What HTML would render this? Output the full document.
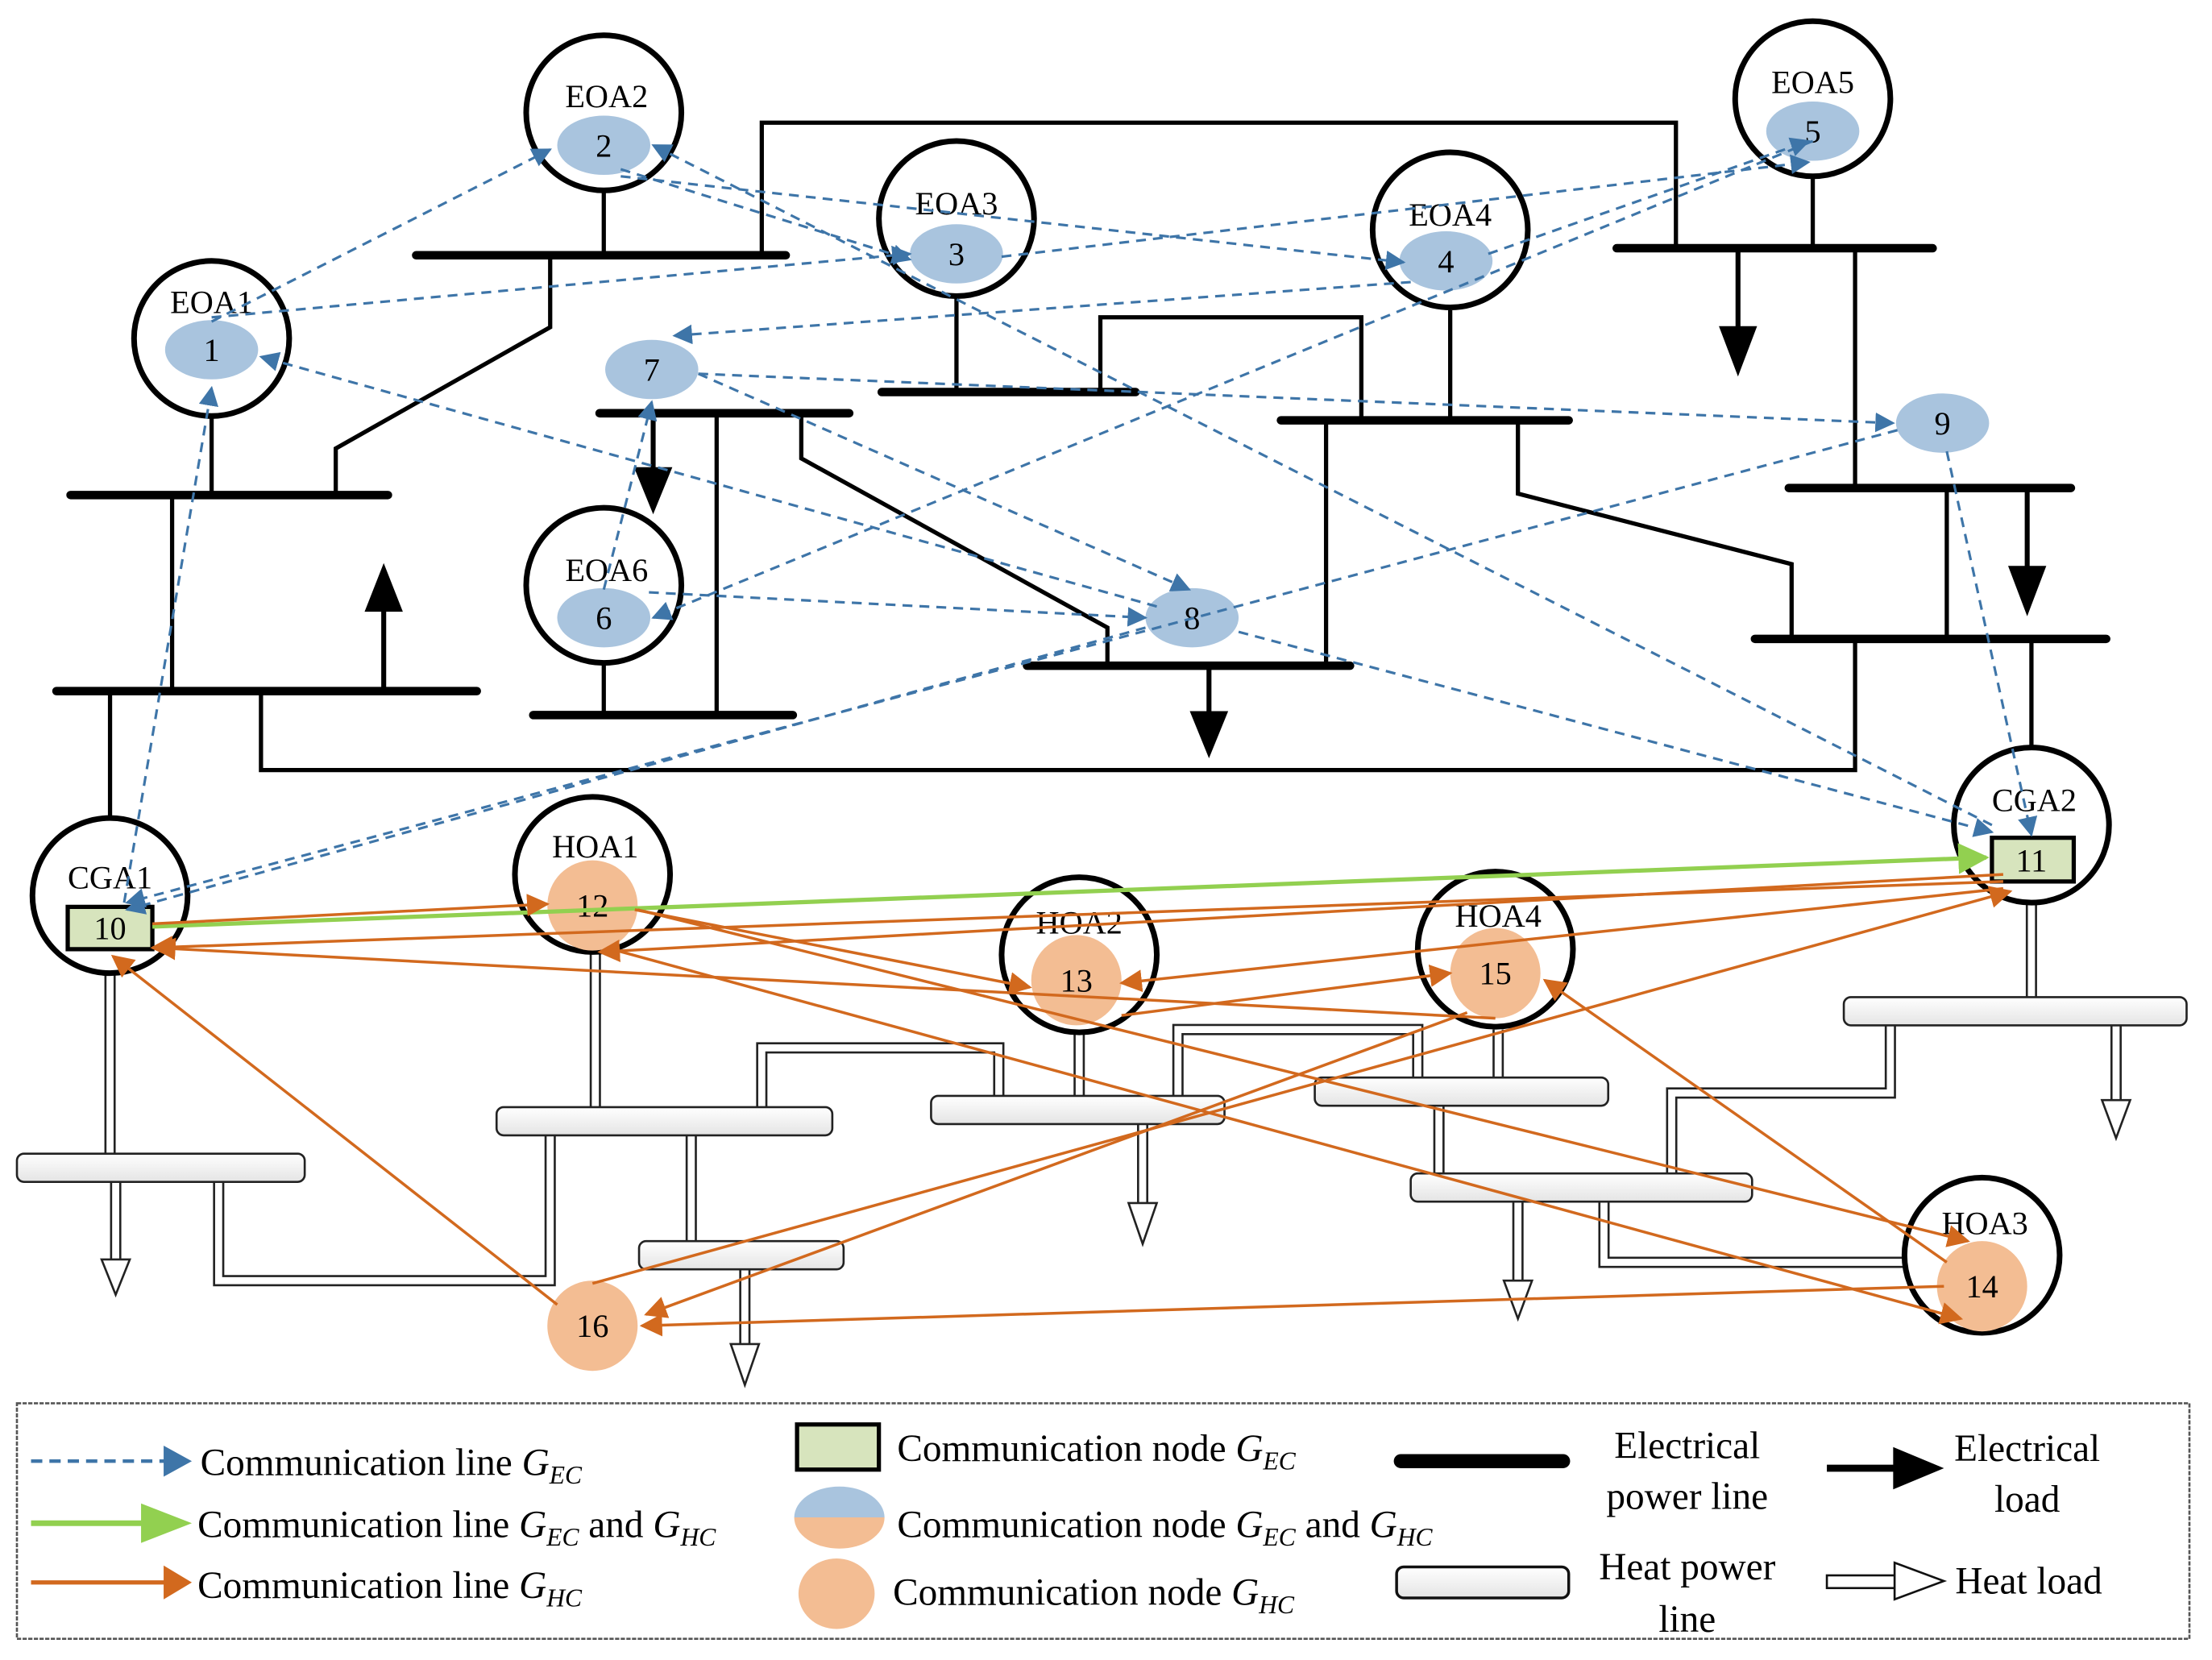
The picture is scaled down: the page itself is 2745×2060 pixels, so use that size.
<!DOCTYPE html>
<html><head><meta charset="utf-8"><style>html,body{margin:0;padding:0;background:#fff}svg{display:block}</style></head><body>
<svg width="2745" height="2060" viewBox="0 0 1568 1177" preserveAspectRatio="none" xmlns="http://www.w3.org/2000/svg" font-family="Liberation Serif, serif">
<defs>
<marker id="ab" viewBox="0 0 10 10" refX="9" refY="5" markerWidth="14" markerHeight="14" markerUnits="userSpaceOnUse" orient="auto"><path d="M0,0L10,5L0,10z" fill="#3e75a8"/></marker>
<marker id="ao" viewBox="0 0 10 10" refX="9" refY="5" markerWidth="16" markerHeight="16" markerUnits="userSpaceOnUse" orient="auto"><path d="M0,0L10,5L0,10z" fill="#d2691e"/></marker>
<marker id="ag" viewBox="0 0 10 10" refX="9" refY="5" markerWidth="22" markerHeight="22" markerUnits="userSpaceOnUse" orient="auto"><path d="M0,0L10,5L0,10z" fill="#92d050"/></marker>
<linearGradient id="pipe" x1="0" y1="0" x2="0" y2="1"><stop offset="0" stop-color="#fff"/><stop offset="1" stop-color="#e4e4e4"/></linearGradient>
<linearGradient id="half" x1="0" y1="0" x2="0" y2="1"><stop offset="0.5" stop-color="#a9c4de"/><stop offset="0.5" stop-color="#f3bd93"/></linearGradient>
</defs>

<!-- electrical network -->
<g stroke="#000" fill="none" stroke-width="3">
<path d="M428,135V181M390,181V232L238,318V351M540,181V87H1188V176M150,295V351M122,351V490M78,490V580M185,490V546H1315V453M1076,298V350L1270,400V453M678,210V278M780,278V225H965V298M1028,220V298M940,298V472M568,293V325L785,445V472M508,293V507M428,470V507M1285,125V176M1315,176V346M1380,346V453M1440,453V530"/>
</g>
<g stroke="#000" stroke-width="6" stroke-linecap="round">
<line x1="295" y1="181" x2="557" y2="181"/><line x1="50" y1="351" x2="275" y2="351"/><line x1="40" y1="490" x2="338" y2="490"/>
<line x1="425" y1="293" x2="602" y2="293"/><line x1="378" y1="507" x2="562" y2="507"/><line x1="625" y1="278" x2="805" y2="278"/>
<line x1="728" y1="472" x2="957" y2="472"/><line x1="908" y1="298" x2="1112" y2="298"/><line x1="1146" y1="176" x2="1370" y2="176"/>
<line x1="1268" y1="346" x2="1468" y2="346"/><line x1="1244" y1="453" x2="1493" y2="453"/>
</g>
<g stroke="#000" stroke-width="3.5" fill="#000">
<line x1="272" y1="490" x2="272" y2="430"/><path d="M261,432L272,404L283,432z"/>
<line x1="463" y1="293" x2="463" y2="335"/><path d="M452,333L463,360L474,333z"/>
<line x1="857" y1="472" x2="857" y2="508"/><path d="M846,506L857,533L868,506z"/>
<line x1="1232" y1="176" x2="1232" y2="235"/><path d="M1221,233L1232,262L1243,233z"/>
<line x1="1437" y1="346" x2="1437" y2="405"/><path d="M1426,403L1437,432L1448,403z"/>
</g>

<!-- heat network -->
<g fill="none" stroke="#222" stroke-width="8"><path d="M78,690V818M155,838V908H390V805M422,675V785M540,785V743H708V777M490,805V880M765,730V777M835,777V730H1005V764M1062,730V764M1020,784V832M1137,852V895H1355M1185,832V775H1340V727M1440,640V707M82,838V895M528,900V955M810,797V855M1076,852V910M1500,727V782"/></g>
<g fill="none" stroke="#fff" stroke-width="5"><path d="M78,690V818M155,838V908H390V805M422,675V785M540,785V743H708V777M490,805V880M765,730V777M835,777V730H1005V764M1062,730V764M1020,784V832M1137,852V895H1355M1185,832V775H1340V727M1440,640V707M82,838V895M528,900V955M810,797V855M1076,852V910M1500,727V782"/></g>
<g fill="#fff" stroke="#222" stroke-width="1.5">
<path d="M72,893L92,893L82,918z"/><path d="M518,953L538,953L528,982z"/><path d="M800,853L820,853L810,882z"/><path d="M1066,908L1086,908L1076,935z"/><path d="M1490,780L1510,780L1500,807z"/>
</g>
<g fill="url(#pipe)" stroke="#222" stroke-width="1.5">
<rect x="12" y="818" width="204" height="20" rx="5"/><rect x="352" y="785" width="238" height="20" rx="5"/><rect x="660" y="777" width="208" height="20" rx="5"/>
<rect x="932" y="764" width="208" height="20" rx="5"/><rect x="1307" y="707" width="243" height="20" rx="5"/><rect x="1000" y="832" width="242" height="20" rx="5"/>
<rect x="453" y="880" width="145" height="20" rx="5"/>
</g>

<!-- agent circles -->
<g fill="#fff" stroke="#000" stroke-width="4">
<circle cx="150" cy="240" r="55"/><circle cx="428" cy="80" r="55"/><circle cx="678" cy="155" r="55"/><circle cx="1028" cy="163" r="55"/>
<circle cx="1285" cy="70" r="55"/><circle cx="428" cy="415" r="55"/><circle cx="78" cy="635" r="55"/><circle cx="420" cy="620" r="55"/>
<circle cx="765" cy="677" r="55"/><circle cx="1060" cy="673" r="55"/><circle cx="1440" cy="585" r="55"/><circle cx="1405" cy="890" r="55"/>
</g>
<g font-size="23" text-anchor="middle" fill="#000">
<text x="150" y="222">EOA1</text><text x="430" y="76">EOA2</text><text x="678" y="152">EOA3</text><text x="1028" y="160">EOA4</text>
<text x="1285" y="66">EOA5</text><text x="430" y="412">EOA6</text><text x="78" y="630">CGA1</text><text x="422" y="608">HOA1</text>
<text x="765" y="662">HOA2</text><text x="1062" y="657">HOA4</text><text x="1442" y="575">CGA2</text><text x="1407" y="875">HOA3</text>
</g>

<!-- nodes -->
<g fill="#a9c4de">
<ellipse cx="150" cy="248" rx="33" ry="21"/><ellipse cx="428" cy="103" rx="33" ry="21"/><ellipse cx="678" cy="180" rx="33" ry="21"/>
<ellipse cx="1025" cy="185" rx="33" ry="21"/><ellipse cx="1285" cy="93" rx="33" ry="21"/><ellipse cx="462" cy="262" rx="33" ry="21"/>
<ellipse cx="428" cy="438" rx="33" ry="21"/><ellipse cx="845" cy="438" rx="33" ry="21"/><ellipse cx="1377" cy="300" rx="33" ry="21"/>
</g>
<g fill="#f3bd93">
<circle cx="420" cy="642" r="32"/><circle cx="763" cy="695" r="32"/><circle cx="1060" cy="690" r="32"/><circle cx="1405" cy="912" r="32"/><circle cx="420" cy="940" r="32"/>
</g>
<g fill="#d7e4bd" stroke="#000" stroke-width="3"><rect x="48" y="643" width="60" height="30"/><rect x="1412" y="594" width="58" height="31"/></g>
<g font-size="23" text-anchor="middle" fill="#000">
<text x="150" y="256">1</text><text x="428" y="111">2</text><text x="678" y="188">3</text><text x="1025" y="193">4</text><text x="1285" y="101">5</text>
<text x="428" y="446">6</text><text x="462" y="270">7</text><text x="845" y="446">8</text><text x="1377" y="308">9</text>
<text x="78" y="666">10</text><text x="1440" y="618">11</text><text x="420" y="650">12</text><text x="763" y="703">13</text><text x="1405" y="920">14</text><text x="1060" y="698">15</text><text x="420" y="948">16</text>
</g>

<!-- blue dashed comm lines -->
<g stroke="#3e75a8" stroke-width="1.8" stroke-dasharray="7,5" fill="none" marker-end="url(#ab)">
<line x1="150" y1="228" x2="390" y2="106"/>
<line x1="440" y1="120" x2="645" y2="184"/>
<line x1="440" y1="125" x2="995" y2="186"/>
<line x1="1412" y1="585" x2="463" y2="103"/>
<line x1="150" y1="225" x2="645" y2="180"/>
<line x1="820" y1="430" x2="185" y2="253"/>
<line x1="495" y1="265" x2="843" y2="418"/>
<line x1="495" y1="265" x2="1342" y2="300"/>
<line x1="1000" y1="200" x2="478" y2="238"/>
<line x1="428" y1="418" x2="462" y2="285"/>
<line x1="460" y1="420" x2="812" y2="438"/>
<line x1="1285" y1="100" x2="463" y2="438"/>
<line x1="710" y1="182" x2="1282" y2="115"/>
<line x1="1055" y1="180" x2="1282" y2="100"/>
<line x1="88" y1="640" x2="150" y2="275"/>
<line x1="812" y1="445" x2="90" y2="645"/>
<line x1="1345" y1="305" x2="90" y2="640"/>
<line x1="1380" y1="320" x2="1440" y2="592"/>
<line x1="878" y1="448" x2="1412" y2="590"/>
</g>
<line x1="108" y1="657" x2="1408" y2="608" stroke="#92d050" stroke-width="3" marker-end="url(#ag)"/>
<g stroke="#d2691e" stroke-width="2" fill="none" marker-end="url(#ao)">
<line x1="108" y1="655" x2="388" y2="641"/>
<line x1="1420" y1="620" x2="425" y2="675"/>
<line x1="1420" y1="625" x2="108" y2="672"/>
<line x1="1420" y1="630" x2="795" y2="697"/>
<line x1="450" y1="645" x2="730" y2="700"/>
<line x1="795" y1="720" x2="1028" y2="690"/>
<line x1="1060" y1="722" x2="110" y2="672"/>
<line x1="452" y1="645" x2="1395" y2="880"/>
<line x1="430" y1="672" x2="1390" y2="935"/>
<line x1="1380" y1="895" x2="1095" y2="695"/>
<line x1="1378" y1="912" x2="455" y2="940"/>
<line x1="395" y1="925" x2="80" y2="678"/>
<line x1="420" y1="910" x2="1425" y2="632"/>
<line x1="1040" y1="718" x2="458" y2="932"/>
</g>

<!-- legend -->
<rect x="12" y="995" width="1540" height="167" fill="none" stroke="#555" stroke-width="1.5" stroke-dasharray="3,1"/>
<line x1="22" y1="1036" x2="118" y2="1036" stroke="#3e75a8" stroke-width="2.5" stroke-dasharray="8,5"/><path d="M116,1025L136,1036L116,1047z" fill="#3e75a8"/>
<line x1="22" y1="1080" x2="102" y2="1080" stroke="#92d050" stroke-width="4"/><path d="M100,1066L136,1080L100,1094z" fill="#92d050"/>
<line x1="22" y1="1122" x2="118" y2="1122" stroke="#d2691e" stroke-width="3"/><path d="M116,1110L136,1122L116,1134z" fill="#d2691e"/>
<g font-size="27" fill="#000">
<text x="142" y="1046">Communication line <tspan font-style="italic">G</tspan><tspan font-style="italic" font-size="18" dy="6">EC</tspan></text>
<text x="140" y="1090">Communication line <tspan font-style="italic">G</tspan><tspan font-style="italic" font-size="18" dy="6">EC</tspan><tspan dy="-6"> and </tspan><tspan font-style="italic">G</tspan><tspan font-style="italic" font-size="18" dy="6">HC</tspan></text>
<text x="140" y="1133">Communication line <tspan font-style="italic">G</tspan><tspan font-style="italic" font-size="18" dy="6">HC</tspan></text>
<text x="636" y="1036">Communication node  <tspan font-style="italic">G</tspan><tspan font-style="italic" font-size="18" dy="6">EC</tspan></text>
<text x="636" y="1090">Communication node <tspan font-style="italic">G</tspan><tspan font-style="italic" font-size="18" dy="6">EC</tspan><tspan dy="-6">  and  </tspan><tspan font-style="italic">G</tspan><tspan font-style="italic" font-size="18" dy="6">HC</tspan></text>
<text x="633" y="1138">Communication node  <tspan font-style="italic">G</tspan><tspan font-style="italic" font-size="18" dy="6">HC</tspan></text>
<text x="1196" y="1034" text-anchor="middle">Electrical</text><text x="1196" y="1070" text-anchor="middle">power line</text>
<text x="1437" y="1036" text-anchor="middle">Electrical</text><text x="1437" y="1072" text-anchor="middle">load</text>
<text x="1196" y="1120" text-anchor="middle">Heat power</text><text x="1196" y="1157" text-anchor="middle">line</text>
<text x="1386" y="1130">Heat load</text>
</g>
<rect x="565" y="1010" width="58" height="32" fill="#d7e4bd" stroke="#000" stroke-width="3"/>
<ellipse cx="595" cy="1076" rx="32" ry="22" fill="url(#half)"/>
<ellipse cx="593" cy="1130" rx="27" ry="25" fill="#f3bd93"/>
<line x1="993" y1="1036" x2="1108" y2="1036" stroke="#000" stroke-width="10" stroke-linecap="round"/>
<line x1="1295" y1="1041" x2="1345" y2="1041" stroke="#000" stroke-width="5"/><path d="M1342,1026L1378,1041L1342,1056z" fill="#000"/>
<rect x="990" y="1111" width="122" height="22" rx="5" fill="url(#pipe)" stroke="#111" stroke-width="2"/>
<rect x="1295" y="1117" width="50" height="9" fill="#fff" stroke="#111" stroke-width="1.5"/><path d="M1343,1108L1378,1121L1343,1134z" fill="#fff" stroke="#111" stroke-width="1.5"/>
</svg>
</body></html>
